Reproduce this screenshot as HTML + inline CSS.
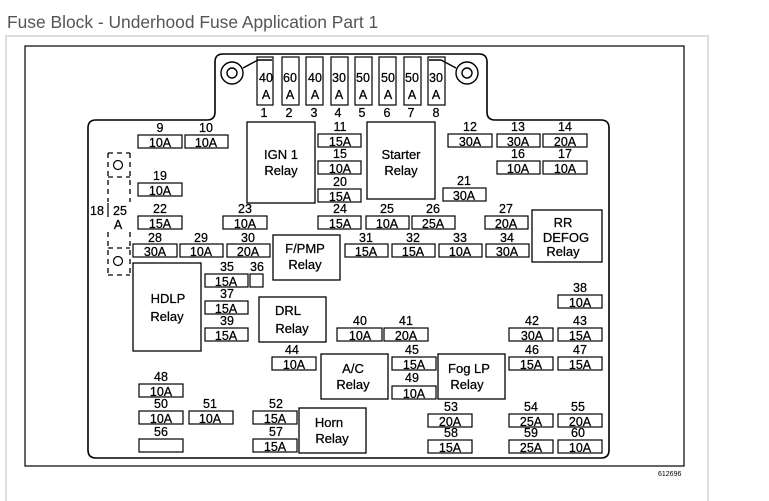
<!DOCTYPE html>
<html><head><meta charset="utf-8"><style>
html,body{margin:0;padding:0;background:#fff;width:769px;height:501px;overflow:hidden}
svg{display:block}
text{font-family:"Liberation Sans",Arial,sans-serif;fill:#000}
#f text,.b text{stroke:#000;stroke-width:0.25}
</style></head><body>
<svg width="769" height="501" viewBox="0 0 769 501" xmlns="http://www.w3.org/2000/svg">
<text x="7" y="28" font-size="17.4" style="fill:#555">Fuse Block - Underhood Fuse Application Part 1</text>
<path d="M6 501 V36 H708 V501" fill="none" stroke="#ddd" stroke-width="2"/>
<rect x="25" y="46" width="659" height="420" fill="none" stroke="#000" stroke-width="1.2"/>
<text x="658" y="476" font-size="7">612696</text>
<path d="M96 120 H207 Q215 120 215 112 V62 Q215 54 223 54 H479 Q487 54 487 62 V112 Q487 120 495 120 H601 Q609 120 609 128 V450 Q609 458 601 458 H96 Q88 458 88 450 V128 Q88 120 96 120 Z" fill="none" stroke="#000" stroke-width="1.6"/>
<g fill="none" stroke="#000" stroke-width="1.4">
<circle cx="232" cy="73" r="11"/><circle cx="232" cy="73" r="5"/>
<circle cx="467" cy="73" r="11"/><circle cx="467" cy="73" r="5"/>
<path d="M243 68 L258 60 H272"/><path d="M456 68 L441 60 H429"/>
</g>
<g class="b" font-size="12.5" text-anchor="middle">
<g fill="none" stroke="#000" stroke-width="1.2">
<rect x="257" y="57" width="16" height="48"/><rect x="282" y="57" width="17" height="48"/>
<rect x="306" y="57" width="17" height="48"/><rect x="331" y="57" width="17" height="48"/>
<rect x="355" y="57" width="17" height="48"/><rect x="379" y="57" width="17" height="48"/>
<rect x="404" y="57" width="17" height="48"/><rect x="428" y="57" width="17" height="48"/>
</g>
<text x="266" y="82">40</text><text x="266" y="99">A</text><text x="264" y="117">1</text>
<text x="290" y="82">60</text><text x="290" y="99">A</text><text x="289" y="117">2</text>
<text x="315" y="82">40</text><text x="315" y="99">A</text><text x="314" y="117">3</text>
<text x="339" y="82">30</text><text x="339" y="99">A</text><text x="338" y="117">4</text>
<text x="363" y="82">50</text><text x="363" y="99">A</text><text x="362" y="117">5</text>
<text x="388" y="82">50</text><text x="388" y="99">A</text><text x="387" y="117">6</text>
<text x="412" y="82">50</text><text x="412" y="99">A</text><text x="411" y="117">7</text>
<text x="436" y="82">30</text><text x="436" y="99">A</text><text x="436" y="117">8</text>
</g>
<g fill="none" stroke="#000" stroke-width="1.3" stroke-dasharray="5,4">
<path d="M108 153 H130 M108 153 V202 M130 153 V202 M108 177 H130 M108 232 V275 M130 232 V275 M108 275 H130 M108 248 H130"/>
</g>
<g fill="none" stroke="#000" stroke-width="1.2"><circle cx="118" cy="165" r="4.5"/><circle cx="118" cy="261" r="4.5"/></g>
<g class="b" font-size="12.5" text-anchor="middle">
<text x="97" y="215">18</text><text x="120" y="215">25</text><text x="118" y="229">A</text>
</g>
<line x1="108" y1="203" x2="108" y2="217" stroke="#000" stroke-width="1.2"/>
<g fill="none" stroke="#000" stroke-width="1.3">
<rect x="247" y="122" width="68" height="81"/>
<rect x="367" y="122" width="68" height="77"/>
<rect x="532" y="210" width="70" height="52"/>
<rect x="273" y="235" width="67" height="45"/>
<rect x="133" y="263" width="68" height="88"/>
<rect x="259" y="297" width="67" height="45"/>
<rect x="321" y="354" width="67" height="45"/>
<rect x="438" y="354" width="67" height="45"/>
<rect x="299" y="408" width="67" height="45"/>
</g>
<g class="b" font-size="13" text-anchor="middle">
<text x="281" y="159">IGN 1</text><text x="281" y="175">Relay</text>
<text x="401" y="159">Starter</text><text x="401" y="175">Relay</text>
<text x="563" y="227">RR</text><text x="566" y="242">DEFOG</text><text x="563" y="256">Relay</text>
<text x="305" y="253">F/PMP</text><text x="305" y="269">Relay</text>
<text x="168" y="303">HDLP</text><text x="167" y="321">Relay</text>
<text x="288" y="315">DRL</text><text x="292" y="333">Relay</text>
<text x="353" y="373">A/C</text><text x="353" y="389">Relay</text>
<text x="469" y="373">Fog LP</text><text x="467" y="389">Relay</text>
<text x="329" y="427">Horn</text><text x="332" y="443">Relay</text>
</g>
<g id="f" font-size="12.5" text-anchor="middle">
<g fill="none" stroke="#000" stroke-width="1.2">
<rect x="138" y="135" width="44" height="13"/><rect x="185" y="135" width="43" height="13"/>
<rect x="318" y="134" width="43" height="13"/><rect x="318" y="161" width="43" height="13"/>
<rect x="318" y="189" width="43" height="13"/><rect x="318" y="216" width="43" height="13"/>
<rect x="448" y="134" width="44" height="13"/><rect x="497" y="134" width="43" height="13"/><rect x="543" y="134" width="44" height="13"/>
<rect x="497" y="161" width="43" height="13"/><rect x="543" y="161" width="44" height="13"/>
<rect x="443" y="188" width="43" height="13"/>
<rect x="138" y="183" width="44" height="13"/><rect x="138" y="216" width="44" height="13"/>
<rect x="223" y="216" width="44" height="13"/>
<rect x="366" y="216" width="43" height="13"/><rect x="412" y="216" width="43" height="13"/><rect x="485" y="216" width="43" height="13"/>
<rect x="133" y="244" width="44" height="13"/><rect x="180" y="244" width="43" height="13"/><rect x="227" y="244" width="43" height="13"/>
<rect x="345" y="244" width="43" height="13"/><rect x="392" y="244" width="43" height="13"/><rect x="439" y="244" width="43" height="13"/><rect x="486" y="244" width="43" height="13"/>
<rect x="205" y="274" width="43" height="13"/><rect x="250" y="274" width="13" height="13"/>
<rect x="205" y="301" width="43" height="13"/><rect x="205" y="328" width="43" height="13"/>
<rect x="558" y="295" width="44" height="13"/>
<rect x="337" y="328" width="45" height="13"/><rect x="384" y="328" width="44" height="13"/>
<rect x="509" y="328" width="44" height="13"/><rect x="558" y="328" width="44" height="13"/>
<rect x="272" y="357" width="44" height="13"/>
<rect x="392" y="357" width="44" height="13"/><rect x="392" y="386" width="44" height="13"/>
<rect x="509" y="357" width="44" height="13"/><rect x="558" y="357" width="44" height="13"/>
<rect x="139" y="384" width="44" height="13"/>
<rect x="139" y="411" width="44" height="13"/><rect x="189" y="411" width="44" height="13"/>
<rect x="139" y="439" width="44" height="13"/>
<rect x="253" y="411" width="44" height="13"/><rect x="253" y="439" width="44" height="13"/>
<rect x="428" y="414" width="44" height="13"/><rect x="428" y="440" width="44" height="13"/>
<rect x="509" y="414" width="44" height="13"/><rect x="558" y="414" width="44" height="13"/>
<rect x="509" y="440" width="44" height="13"/><rect x="558" y="440" width="44" height="13"/>
</g>
<text x="160" y="132">9</text><text x="160" y="147">10A</text>
<text x="206" y="132">10</text><text x="206" y="147">10A</text>
<text x="340" y="131">11</text><text x="340" y="146">15A</text>
<text x="340" y="158">15</text><text x="340" y="173">10A</text>
<text x="340" y="186">20</text><text x="340" y="201">15A</text>
<text x="340" y="213">24</text><text x="340" y="228">15A</text>
<text x="470" y="131">12</text><text x="470" y="146">30A</text>
<text x="518" y="131">13</text><text x="518" y="146">30A</text>
<text x="565" y="131">14</text><text x="565" y="146">20A</text>
<text x="518" y="158">16</text><text x="518" y="173">10A</text>
<text x="565" y="158">17</text><text x="565" y="173">10A</text>
<text x="464" y="185">21</text><text x="464" y="200">30A</text>
<text x="160" y="180">19</text><text x="160" y="195">10A</text>
<text x="160" y="213">22</text><text x="160" y="228">15A</text>
<text x="245" y="213">23</text><text x="245" y="228">10A</text>
<text x="387" y="213">25</text><text x="387" y="228">10A</text>
<text x="433" y="213">26</text><text x="433" y="228">25A</text>
<text x="506" y="213">27</text><text x="506" y="228">20A</text>
<text x="155" y="242">28</text><text x="155" y="256">30A</text>
<text x="201" y="242">29</text><text x="201" y="256">10A</text>
<text x="248" y="242">30</text><text x="248" y="256">20A</text>
<text x="366" y="242">31</text><text x="366" y="256">15A</text>
<text x="413" y="242">32</text><text x="413" y="256">15A</text>
<text x="460" y="242">33</text><text x="460" y="256">10A</text>
<text x="507" y="242">34</text><text x="507" y="256">30A</text>
<text x="227" y="271">35</text><text x="226" y="286">15A</text>
<text x="257" y="271">36</text>
<text x="227" y="298">37</text><text x="226" y="313">15A</text>
<text x="227" y="325">39</text><text x="226" y="340">15A</text>
<text x="580" y="292">38</text><text x="580" y="307">10A</text>
<text x="360" y="325">40</text><text x="360" y="340">10A</text>
<text x="406" y="325">41</text><text x="406" y="340">20A</text>
<text x="532" y="325">42</text><text x="532" y="340">30A</text>
<text x="580" y="325">43</text><text x="580" y="340">15A</text>
<text x="292" y="354">44</text><text x="294" y="369">10A</text>
<text x="412" y="354">45</text><text x="414" y="369">15A</text>
<text x="412" y="382">49</text><text x="414" y="398">10A</text>
<text x="532" y="354">46</text><text x="531" y="369">15A</text>
<text x="580" y="354">47</text><text x="580" y="369">15A</text>
<text x="161" y="381">48</text><text x="161" y="396">10A</text>
<text x="161" y="408">50</text><text x="161" y="423">10A</text>
<text x="210" y="408">51</text><text x="210" y="423">10A</text>
<text x="161" y="436">56</text>
<text x="276" y="408">52</text><text x="275" y="423">15A</text>
<text x="276" y="436">57</text><text x="275" y="451">15A</text>
<text x="451" y="411">53</text><text x="450" y="426">20A</text>
<text x="451" y="437">58</text><text x="450" y="452">15A</text>
<text x="531" y="411">54</text><text x="531" y="426">25A</text>
<text x="578" y="411">55</text><text x="580" y="426">20A</text>
<text x="531" y="437">59</text><text x="531" y="452">25A</text>
<text x="578" y="437">60</text><text x="580" y="452">10A</text>
</g>
</svg>
</body></html>
